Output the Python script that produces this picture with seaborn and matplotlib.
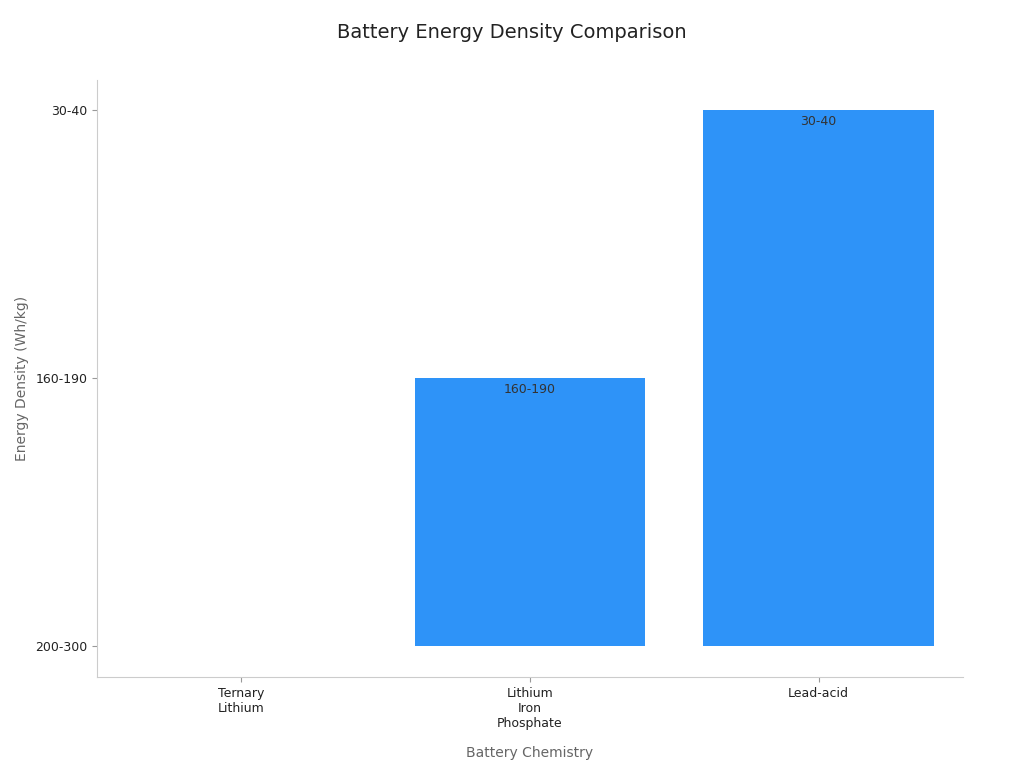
import matplotlib
matplotlib.use("Agg")
import matplotlib.pyplot as plt
import seaborn as sns
import pandas as pd

categories = ["Ternary\nLithium", "Lithium\nIron\nPhosphate", "Lead-acid"]
value_labels = ["200-300", "160-190", "30-40"]
# categorical y-axis: index of each bar's label in the y categories
values = [0, 1, 2]
y_ticks = ["200-300", "160-190", "30-40"]

df = pd.DataFrame({"cat": categories, "val": values})

fig = plt.figure(figsize=(10.24, 7.68), dpi=100)
ax = fig.add_axes([97/1024, 1-677/768, (963-97)/1024, (677-80)/768])
sns.barplot(data=df, x="cat", y="val", color="#2E93F8", saturation=1, width=0.8, ax=ax)
ax.set_xlim(-0.5, 2.5)
ax.set_ylim(-0.116, 2.11)
ax.set_yticks(range(len(y_ticks)))
ax.set_yticklabels(y_ticks, fontsize=9, color="#222222")
ax.tick_params(axis="x", labelsize=9, colors="#222222")
ax.tick_params(axis="both", color="#999999")
for i, (v, lab) in enumerate(zip(values, value_labels)):
    if v > 0:
        ax.text(i, v - 0.02, lab, ha="center", va="top", fontsize=9, color="#333333")
for s in ["top", "right"]:
    ax.spines[s].set_visible(False)
for s in ["left", "bottom"]:
    ax.spines[s].set_color("#cccccc")
ax.set_xlabel("Battery Chemistry", fontsize=10, color="#666666", labelpad=12)
ax.set_ylabel("Energy Density (Wh/kg)", fontsize=10, color="#666666")
fig.suptitle("Battery Energy Density Comparison", fontsize=14, color="#222222", y=0.97)
fig.savefig("out.png", dpi=100)
